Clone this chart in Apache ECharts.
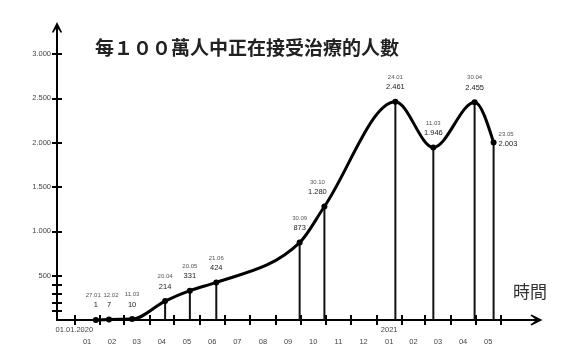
<!DOCTYPE html>
<html><head><meta charset="utf-8">
<script src="https://cdn.jsdelivr.net/npm/echarts@6/dist/echarts.min.js"></script>
<style>html,body{margin:0;padding:0;background:#fff}#c{width:570px;height:356px}</style>
</head><body><div id="c"></div>
<script>
// ---- data ----
const dates = ['2020-01-27','2020-02-12','2020-03-11','2020-04-20','2020-05-20','2020-06-21','2020-09-30','2020-10-30','2021-01-24','2021-03-11','2021-04-30','2021-05-23'];
const values = [1,7,10,214,331,424,873,1280,2461,1946,2455,2003];
const monthTicks = ['2020-01-01','2020-02-01','2020-03-01','2020-04-01','2020-05-01','2020-06-01','2020-07-01','2020-08-01','2020-09-01','2020-10-01','2020-11-01','2020-12-01','2021-01-01','2021-02-01','2021-03-01','2021-04-01','2021-05-01','2021-06-01'];
const yTicks = [100,200,300,400,500,1000,1500,2000,2500,3000];
const yLabels = [500,1000,1500,2000,2500,3000];
const titleText = '每１００萬人中正在接受治療的人數';
const axisName = '時間';
const startLabel = '01.01.2020';
const yearLabel = '2021';
const xMin = '2019-12-11', xMax = '2021-07-14';
const yMin = 0, yMax = 3300;

// ---- helpers ----
function ts(s){const p=s.split('-').map(Number);return Date.UTC(p[0],p[1]-1,p[2]);}
function pad(n){return (n<10?'0':'')+n;}
function thousands(v){return String(v).replace(/\B(?=(\d{3})+(?!\d))/g,'.');}
function dayMonth(s){const p=s.split('-');return p[2]+'.'+p[1];}
const monthTs = monthTicks.map(ts);
const midTs = monthTs.slice(0,-1).map((t,i)=>(t+monthTs[i+1])/2);
const arrow = 'path://M5,0 L10,10 L9,11 L5,5.5 L1,11 L0,10 Z';
const labelTweaks = {7:{offset:[-7,0]}, 11:{position:'right', distance:2, offset:[0,-3], align:'left'}};
const dateStyleKey = {0:'dl', 1:'dr'};
const fontLatin = 'Liberation Sans, Arial, sans-serif';

const pointData = dates.map((d,i)=>[ts(d), values[i]]);
const lineData = pointData.map((v,i)=>{
  const item = {value:v};
  if (labelTweaks[i]) item.label = labelTweaks[i];
  return item;
});

// monotone cubic curve through pixel points (same as d3.curveMonotoneX)
function monotonePath(pts){
  const n=pts.length, xs=pts.map(p=>p[0]), ys=pts.map(p=>p[1]), t=new Array(n);
  const sign=v=>v<0?-1:1;
  for(let i=1;i<n-1;i++){
    const h0=xs[i]-xs[i-1], h1=xs[i+1]-xs[i];
    const s0=(ys[i]-ys[i-1])/h0, s1=(ys[i+1]-ys[i])/h1;
    const p=(s0*h1+s1*h0)/(h0+h1);
    t[i]=(sign(s0)+sign(s1))*Math.min(Math.abs(s0),Math.abs(s1),0.5*Math.abs(p))||0;
  }
  t[0]=(3*(ys[1]-ys[0])/(xs[1]-xs[0])-t[1])/2;
  t[n-1]=(3*(ys[n-1]-ys[n-2])/(xs[n-1]-xs[n-2])-t[n-2])/2;
  let d='M'+xs[0]+','+ys[0];
  for(let i=0;i<n-1;i++){
    const dx=(xs[i+1]-xs[i])/3;
    d+=' C'+(xs[i]+dx)+','+(ys[i]+dx*t[i])+' '+(xs[i+1]-dx)+','+(ys[i+1]-dx*t[i+1])+' '+xs[i+1]+','+ys[i+1];
  }
  return d;
}

const dateStyle = {fontSize:6, color:'#555', lineHeight:9, fontFamily:fontLatin};
const chart = echarts.init(document.getElementById('c'), null, {renderer:'canvas'});
chart.setOption({
  backgroundColor:'#fff',
  animation:false,
  title:[
    {text:titleText, left:90, top:33, textStyle:{fontFamily:'Noto Sans CJK TC', fontSize:19, fontWeight:'bold', color:'#222'}},
    {text:axisName, left:508, top:278, textStyle:{fontFamily:'Noto Sans CJK TC', fontSize:17, fontWeight:'normal', color:'#333'}}
  ],
  grid:{left:57, right:33.5, top:27.4, bottom:36, containLabel:false, outerBoundsMode:'none'},
  xAxis:[
    {type:'value', min:ts(xMin), max:ts(xMax), position:'bottom', scale:true,
     axisLine:{show:true, onZero:false, lineStyle:{color:'#000', width:2}, symbol:['none', arrow], symbolSize:[11,14]},
     axisTick:{show:true, customValues:monthTs, length:5, inside:false, lineStyle:{color:'#000', width:2}},
     axisLabel:{customValues:midTs, formatter:v=>pad(new Date(v).getUTCMonth()+1), fontSize:7.5, color:'#444', margin:18, fontFamily:fontLatin},
     splitLine:{show:false}},
    {type:'value', min:ts(xMin), max:ts(xMax), position:'bottom', scale:true,
     axisLine:{show:false, onZero:false},
     axisTick:{show:true, customValues:monthTs, length:5, inside:true, lineStyle:{color:'#000', width:2}},
     axisLabel:{customValues:[monthTs[0], midTs[12]], formatter:v=>(v===monthTs[0]?startLabel:yearLabel), fontSize:7.5, color:'#444', margin:6, fontFamily:fontLatin},
     splitLine:{show:false}}
  ],
  yAxis:[
    {type:'value', min:yMin, max:yMax, position:'left',
     axisLine:{show:true, onZero:false, lineStyle:{color:'#000', width:2}, symbol:['none', arrow], symbolSize:[10,12]},
     axisTick:{show:true, customValues:yTicks, length:5, lineStyle:{color:'#000', width:2}},
     axisLabel:{customValues:yLabels, formatter:v=>thousands(v), fontSize:7.5, color:'#444', margin:6, fontFamily:fontLatin},
     splitLine:{show:false}},
    {type:'value', min:yMin, max:yMax, position:'left',
     axisLine:{show:false, onZero:false},
     axisTick:{show:true, inside:true, customValues:yTicks, length:5, lineStyle:{color:'#000', width:2}},
     axisLabel:{show:false}, splitLine:{show:false}}
  ],
  series:[
    {type:'bar', xAxisIndex:0, yAxisIndex:0, data:pointData, barWidth:2, itemStyle:{color:'#111'}, silent:true, z:1},
    {type:'custom', xAxisIndex:0, yAxisIndex:0, data:pointData, encode:{x:0, y:1}, silent:true, z:2, clip:false,
     renderItem:(params, api)=>{
       if (params.dataIndex !== 0) return null;
       const pts = pointData.map(p=>api.coord(p));
       return {type:'path', shape:{pathData:monotonePath(pts)}, style:{stroke:'#000', lineWidth:3, fill:null, lineCap:'round', lineJoin:'round'}};
     }},
    {type:'line', xAxisIndex:0, yAxisIndex:0, data:lineData, smooth:false,
     lineStyle:{opacity:0, width:0}, symbol:'circle', symbolSize:6, itemStyle:{color:'#000'}, z:3,
     label:{show:true, position:'top', distance:6, fontFamily:fontLatin,
       formatter:p=>'{'+(dateStyleKey[p.dataIndex]||'d')+'|'+dayMonth(dates[p.dataIndex])+'}\n{v|'+thousands(values[p.dataIndex])+'}',
       rich:{d:dateStyle,
             dl:Object.assign({}, dateStyle, {padding:[0,5,0,0]}),
             dr:Object.assign({}, dateStyle, {padding:[0,0,0,4]}),
             v:{fontSize:7.5, color:'#222', lineHeight:11, fontFamily:fontLatin}}}}
  ]
});
</script></body></html>
